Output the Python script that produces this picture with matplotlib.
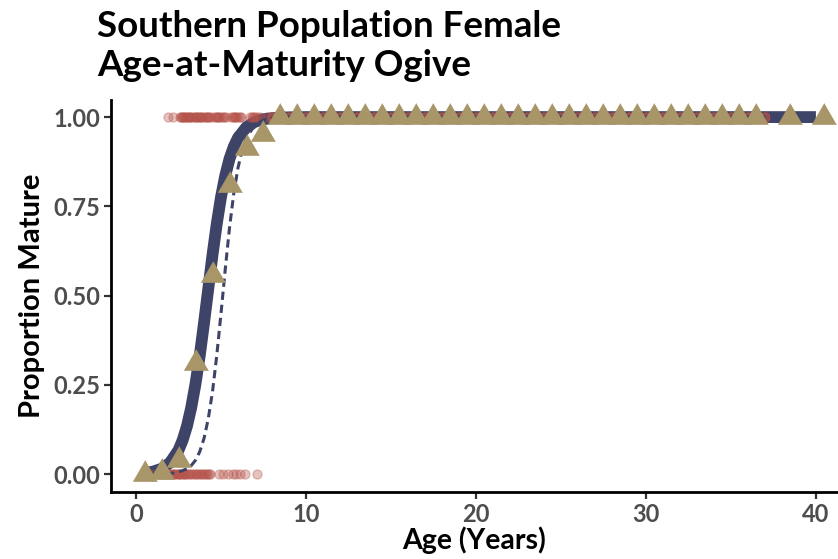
import numpy as np
import matplotlib
matplotlib.use("Agg")
import matplotlib.pyplot as plt

# ── Data ──────────────────────────────────────────────────────
# observed proportion mature by age class
age_bins = [0.5, 1.5, 2.5, 3.5, 4.5, 5.5, 6.5, 7.5] + \
           [a + 0.5 for a in range(8, 37)] + [38.5, 40.5]
prop_mature = [0.0, 0.006, 0.04, 0.31, 0.557, 0.81, 0.913, 0.952] + \
              [1.0] * 29 + [1.0, 1.0]

# fitted ogive (solid) and comparison ogive (dashed)
fit_age = [0.5, 1.0, 1.5, 2.0, 2.5, 2.75, 3.0, 3.25, 3.5, 3.75, 4.0,
           4.25, 4.5, 4.75, 5.0, 5.25, 5.5, 5.75, 6.0, 6.5, 7.0, 7.5,
           8.0, 9.0, 10.0, 40.0]
fit_prop = [0.003, 0.007, 0.015, 0.032, 0.067, 0.096, 0.135, 0.187,
            0.253, 0.332, 0.423, 0.519, 0.614, 0.701, 0.776, 0.836,
            0.883, 0.917, 0.942, 0.972, 0.987, 0.994, 0.997, 0.9994,
            1.0, 1.0]

ref_age = [1.0, 2.0, 2.5, 3.0, 3.25, 3.5, 3.75, 4.0, 4.25, 4.5, 4.75,
           5.0, 5.25, 5.5, 5.75, 6.0, 6.25, 6.5, 7.0, 7.5, 8.0, 9.0,
           10.0, 38.5]
ref_prop = [0.0003, 0.002, 0.0055, 0.015, 0.024, 0.039, 0.063, 0.10,
            0.155, 0.231, 0.332, 0.450, 0.574, 0.690, 0.786, 0.858,
            0.909, 0.943, 0.978, 0.992, 0.997, 0.9996, 1.0, 1.0]

# individual fish: age of mature (1) and immature (0) females
mature_age = [1.9, 2.2, 2.6, 2.65, 2.7, 2.75, 2.8, 2.9, 3.0, 3.0, 3.1,
              3.15, 3.2, 3.3, 3.4, 3.5, 3.5, 3.6, 3.7, 3.75, 3.8, 3.9,
              4.0, 4.1, 4.2, 4.25, 4.3, 4.4, 4.6, 4.7, 4.75, 4.8, 4.9,
              5.0, 5.1, 5.2, 5.3, 5.6, 5.7, 5.75, 5.8, 5.9, 6.0, 6.1,
              6.2, 6.7, 6.8, 6.9, 7.0, 7.1, 7.3, 7.7] + \
             [float(a) for a in range(8, 38) for _ in range(3)]
immature_age = [0.6, 0.9, 1.3, 1.4, 1.5, 1.6, 1.7, 1.8, 1.9, 2.0, 2.1,
                2.2, 2.25, 2.3, 2.4, 2.5, 2.55, 2.6, 2.7, 2.8, 2.85, 2.9,
                3.0, 3.1, 3.2, 3.3, 3.4, 3.5, 3.6, 3.7, 3.8, 3.9, 4.0,
                4.1, 4.2, 4.3, 4.35, 4.9, 5.1, 5.4, 5.7, 5.9, 6.1, 6.4,
                7.1]

y_ticks = [0.0, 0.25, 0.5, 0.75, 1.0]
x_ticks = [0, 10, 20, 30, 40]

NAVY = "#3e4368"
KHAKI = "#a89668"
RED = "#b5534a"

plt.rcParams["font.family"] = ["Lato", "DejaVu Sans"]
plt.rcParams["font.weight"] = "bold"

fig = plt.figure(figsize=(8.38, 5.59), dpi=100)
ax = fig.add_axes([0.1325, 0.1199, 0.8675, 0.7013])

ax.plot(fit_age, fit_prop, color=NAVY, lw=8.5, solid_capstyle="butt",
        zorder=2)
ax.plot(mature_age, [1.0] * len(mature_age), "o", ms=6.5, color=RED,
        alpha=0.35, mec=RED, zorder=3)
ax.plot(immature_age, [0.0] * len(immature_age), "o", ms=6.5, color=RED,
        alpha=0.35, mec=RED, zorder=3)
ax.plot(ref_age, ref_prop, color=NAVY, lw=2.2, dashes=(2.7, 1.6),
        zorder=4)

# equilateral triangle centred on its circumcentre
tri = [(0, 1), (-0.866, -0.5), (0.866, -0.5)]
ax.plot(age_bins, prop_mature, ls="none", marker=tri, ms=20,
        color=KHAKI, mec=KHAKI, mew=0.5, zorder=5, clip_on=False)

ax.set_xlim(-1.47, 41.3)
ax.set_ylim(-0.05, 1.048)
ax.set_xticks(x_ticks)
ax.set_yticks(y_ticks)
ax.set_yticklabels([f"{v:.2f}" for v in y_ticks])

for side in ["top", "right"]:
    ax.spines[side].set_visible(False)
for side in ["left", "bottom"]:
    ax.spines[side].set_linewidth(2.0)
    ax.spines[side].set_color("black")

ax.tick_params(axis="both", length=5, width=1.6, color="#333333",
               labelsize=17, labelcolor="#4d4d4d", pad=3)
for lab in ax.get_xticklabels() + ax.get_yticklabels():
    lab.set_fontweight("bold")

ax.set_xlabel("Age (Years)", fontsize=20.5, fontweight="bold",
              labelpad=0)
ax.set_ylabel("Proportion Mature", fontsize=21, fontweight="bold",
              labelpad=6)

fig.text(0.116, 0.918, "Southern Population Female\nAge-at-Maturity Ogive",
         fontsize=26.5, fontweight="bold", ha="left", va="center",
         linespacing=1.2)

fig.savefig("out.png", dpi=100)
